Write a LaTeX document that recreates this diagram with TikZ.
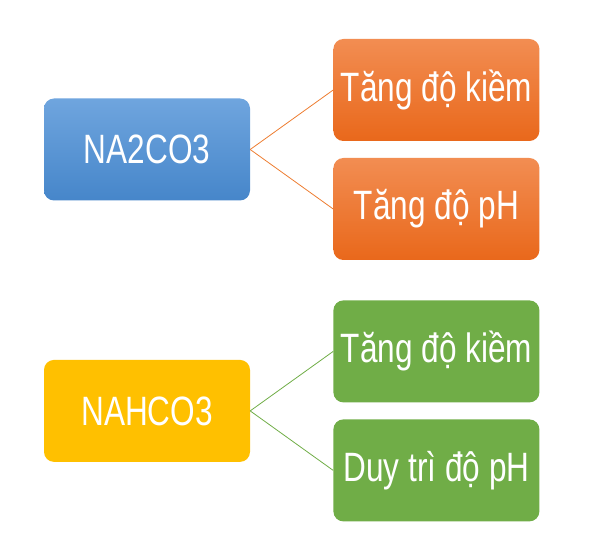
\documentclass[tikz,border=0pt]{standalone}
\usepackage{fontspec}
\setmainfont{Liberation Sans}
\newfontfamily\boxfont{Liberation Sans}[FakeStretch=0.77]
\usetikzlibrary{positioning}
\definecolor{blueTop}{HTML}{6FA5DE}
\definecolor{blueBot}{HTML}{4686CA}
\definecolor{orangeTop}{HTML}{F28D52}
\definecolor{orangeBot}{HTML}{E9681B}
\definecolor{salt}{HTML}{FFC000}
\definecolor{leaf}{HTML}{70AD47}
\definecolor{orangeLine}{HTML}{ED7D31}
\tikzset{
  box/.style={rectangle, rounded corners=10pt, minimum width=206pt,
    minimum height=102pt, text=white, inner sep=0pt,
    font=\boxfont\fontsize{41}{45}\selectfont},
  bluebox/.style={box, top color=blueTop, bottom color=blueBot},
  orangebox/.style={box, top color=orangeTop, bottom color=orangeBot},
  yellowbox/.style={box, fill=salt},
  greenbox/.style={box, fill=leaf},
  link/.style={line width=0.8pt}
}
\begin{document}
\begin{tikzpicture}[x=1pt, y=1pt]
  \useasboundingbox (0,0) rectangle (595,-537);
  \node[bluebox] (na2co3) at (147,-149.5) {NA2CO3};
  \node[orangebox, right=83pt of na2co3, yshift=59.5pt] (kiem1) {Tăng độ kiềm};
  \node[orangebox, right=83pt of na2co3, yshift=-59.5pt] (ph1) {Tăng độ pH};
  \node[yellowbox, below=159pt of na2co3] (nahco3) {NAHCO3};
  \node[greenbox, right=83pt of nahco3, yshift=59.5pt] (kiem2) {Tăng độ kiềm};
  \node[greenbox, right=83pt of nahco3, yshift=-59.5pt] (ph2) {Duy trì độ pH};
  \draw[link, orangeLine] (na2co3.east) -- (kiem1.west);
  \draw[link, orangeLine] (na2co3.east) -- (ph1.west);
  \draw[link, leaf] (nahco3.east) -- (kiem2.west);
  \draw[link, leaf] (nahco3.east) -- (ph2.west);
\end{tikzpicture}
\end{document}
